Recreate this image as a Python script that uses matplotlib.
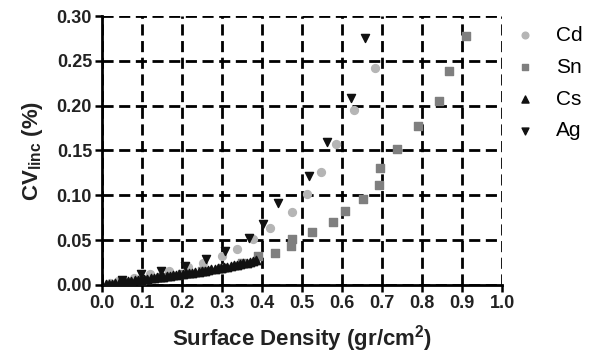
import matplotlib
matplotlib.use("Agg")
import matplotlib.pyplot as plt
import numpy as np

plt.rcParams["font.family"] = ["Liberation Sans", "DejaVu Sans"]
plt.rcParams["mathtext.fontset"] = "custom"
plt.rcParams["mathtext.rm"] = "Liberation Sans"
plt.rcParams["mathtext.bf"] = "Liberation Sans:bold"

# Cd (light grey circles)
cd_x = [0.02, 0.04, 0.08, 0.12, 0.168, 0.216, 0.253, 0.300, 0.337, 0.378,
        0.421, 0.475, 0.513, 0.548, 0.585, 0.629, 0.683]
cd_y = [0.002, 0.004, 0.008, 0.012, 0.016, 0.020, 0.024, 0.032, 0.040, 0.051,
        0.064, 0.081, 0.101, 0.126, 0.157, 0.195, 0.242]

# Sn (dark grey squares)
sn_x = [0.05, 0.10, 0.15, 0.20, 0.25, 0.30, 0.35, 0.391, 0.432, 0.472, 0.476,
        0.524, 0.578, 0.607, 0.652, 0.693, 0.696, 0.737, 0.789, 0.842, 0.867,
        0.909]
sn_y = [0.003, 0.006, 0.009, 0.012, 0.015, 0.019, 0.024, 0.032, 0.036, 0.043,
        0.051, 0.059, 0.070, 0.082, 0.096, 0.112, 0.130, 0.152, 0.177, 0.205,
        0.239, 0.278]

# Cs (black up triangles, dense)
cs_x = [0.010, 0.018, 0.026, 0.034, 0.042, 0.050, 0.058, 0.066, 0.074, 0.082,
        0.090, 0.098, 0.106, 0.114, 0.122, 0.130, 0.138, 0.146, 0.154, 0.162,
        0.170, 0.178, 0.186, 0.194, 0.202, 0.210, 0.218, 0.226, 0.234, 0.242,
        0.250, 0.258, 0.266, 0.274, 0.282, 0.290, 0.298, 0.306, 0.314, 0.322,
        0.330, 0.338, 0.346, 0.354, 0.362, 0.370, 0.378, 0.386]
cs_y = [0.0005, 0.0010, 0.0015, 0.0020, 0.0025, 0.0030, 0.0035, 0.0040, 0.0044, 0.0049,
        0.0054, 0.0059, 0.0064, 0.0068, 0.0073, 0.0078, 0.0083, 0.0088, 0.0093, 0.0098,
        0.0103, 0.0108, 0.0113, 0.0118, 0.0123, 0.0128, 0.0133, 0.0138, 0.0143, 0.0149,
        0.0154, 0.0160, 0.0166, 0.0172, 0.0178, 0.0184, 0.0190, 0.0197, 0.0204, 0.0211,
        0.0218, 0.0225, 0.0232, 0.0240, 0.0248, 0.0256, 0.0265, 0.0274]

# Ag (black down triangles)
ag_x = [0.05, 0.099, 0.149, 0.207, 0.260, 0.307, 0.367, 0.402, 0.439, 0.518,
        0.562, 0.622, 0.658]
ag_y = [0.006, 0.012, 0.016, 0.021, 0.029, 0.038, 0.052, 0.068, 0.091, 0.121,
        0.159, 0.209, 0.275]

fig = plt.figure(figsize=(5.95, 3.57), dpi=100)
ax = fig.add_axes([0.171, 0.202, 0.673, 0.753])

ax.scatter(cd_x, cd_y, s=32, marker="o", color="#b5b5b5", label="Cd", zorder=3)
ax.scatter(sn_x, sn_y, s=30, marker="s", color="#7f7f7f", label="Sn", zorder=3)
ax.scatter(cs_x, cs_y, s=36, marker="^", color="#111111", label="Cs", zorder=4)
ax.scatter(ag_x, ag_y, s=34, marker="v", color="#111111", label="Ag", zorder=4)

ax.set_xlim(0, 1.0)
ax.set_ylim(0, 0.30)
ax.set_xticks(np.arange(0, 1.01, 0.1))
ax.set_yticks(np.arange(0, 0.301, 0.05))
ax.set_xticklabels([f"{v:.1f}" for v in np.arange(0, 1.01, 0.1)])
ax.set_yticklabels([f"{v:.2f}" for v in np.arange(0, 0.301, 0.05)])
ax.tick_params(labelsize=13, width=1.8, length=5, color="black", pad=2)
for lab in ax.get_xticklabels() + ax.get_yticklabels():
    lab.set_fontweight("bold")
    lab.set_color("#222222")

ax.grid(True, color="black", linestyle=(0, (4, 2)), linewidth=2)
ax.set_axisbelow(True)
for side in ["top", "right"]:
    ax.spines[side].set_visible(False)
for side in ["left", "bottom"]:
    ax.spines[side].set_linewidth(2)

ax.set_xlabel(r"Surface Density (gr/cm$^\mathbf{2}$)", fontsize=16,
              fontweight="bold", color="#222222", labelpad=8)
ax.set_ylabel(r"CV$_\mathbf{linc}$ (%)", fontsize=16, fontweight="bold",
              color="#222222", labelpad=8)

ax.legend(loc="upper left", bbox_to_anchor=(1.005, 0.995), frameon=False,
          fontsize=15, handletextpad=0.9, handlelength=1.2, labelspacing=0.62,
          markerscale=0.85, borderaxespad=0)

fig.savefig("out.png", dpi=100)
